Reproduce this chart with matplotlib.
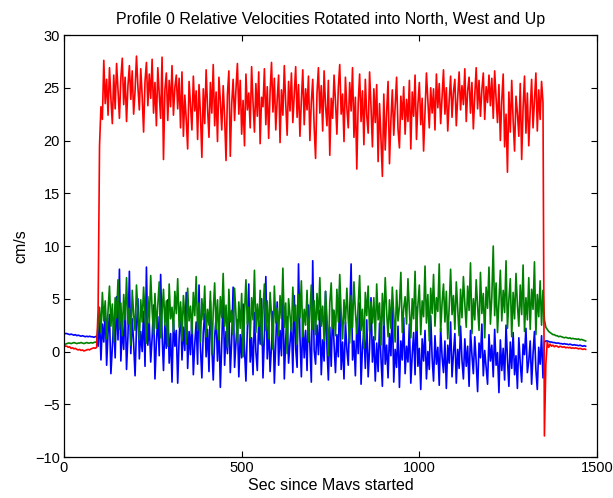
import numpy as np
import matplotlib
matplotlib.use("Agg")
import matplotlib.pyplot as plt

plt.rcParams['font.family'] = ['Liberation Sans', 'DejaVu Sans']

# sample times (s), one sample every 4 s
t_start, t_stop, t_step = 0, 1472, 4

red_vals = [
    0.6, 0.5, 0.5, 0.4, 0.45, 0.3, 0.35, 0.25, 0.3, 0.2, 0.15, 0.2, 0.1, 0.15, 0.05, 0.1, 0.15, 0.2, 0.15, 0.25,
    0.3, 0.35, 0.3, 0.4, 4.0, 19.5, 23.2, 22.0, 27.6, 23.5, 25.8, 22.4, 26.9, 24.0, 21.6, 26.2, 23.0, 27.3, 24.8, 22.1,
    25.9, 27.8, 23.4, 26.0, 21.8, 25.2, 27.1, 23.9, 26.6, 22.5, 24.7, 28.0, 25.1, 22.9, 26.8, 24.2, 20.8, 25.6, 27.4, 23.3,
    26.3, 24.0, 27.7, 22.6, 25.5, 21.4, 26.9, 24.4, 22.1, 27.9, 18.2, 24.8, 26.4, 21.9, 25.7, 23.2, 27.1, 22.4, 25.0, 26.2,
    23.0, 25.9, 21.2, 26.5, 20.4, 24.3, 22.0, 19.2, 25.6, 23.4, 21.0, 26.1, 22.8, 24.7, 20.1, 25.3, 22.5, 18.4, 24.9, 21.6,
    26.7, 23.1, 20.3, 25.5, 22.6, 27.2, 21.4, 24.6, 19.9, 26.0, 23.7, 21.0, 25.2, 22.2, 18.1, 24.4, 26.6, 18.5, 23.5, 25.8,
    21.9, 24.9, 27.3, 22.5, 25.7, 20.6, 23.8, 19.5, 26.3, 22.9, 24.5, 21.2, 27.0, 23.6, 20.8, 25.4, 22.3, 26.5, 19.7, 24.1,
    23.2, 26.8, 21.5, 25.1, 20.2, 24.6, 27.4, 22.7, 25.9, 21.0, 23.9, 26.2, 19.8, 24.8, 22.4, 27.1, 23.5, 20.5, 25.6, 22.8,
    26.4, 21.7, 24.3, 27.0, 22.2, 25.3, 20.4, 23.8, 26.7, 21.5, 24.9, 22.9, 26.1, 20.0, 23.6, 25.8, 21.3, 18.3, 24.5, 26.9,
    22.6, 25.2, 20.9, 26.6, 23.3, 21.4, 25.7, 18.6, 24.0, 22.1, 26.2, 23.7, 20.6, 25.0, 27.2, 22.5, 24.4, 19.9, 26.0, 23.1,
    21.2, 25.5, 22.8, 26.9, 20.3, 24.1, 17.3, 23.6, 26.3, 21.8, 24.7, 19.6, 25.8, 22.4, 20.7, 26.5, 23.2, 19.4, 24.9, 21.7,
    25.3, 18.0, 23.5, 20.2, 16.6, 24.4, 19.1, 22.7, 25.6, 17.8, 21.9, 24.8, 20.5, 23.3, 26.0, 21.1, 19.3, 24.2, 22.0, 25.1,
    20.6, 23.9, 21.8, 25.7, 19.2, 24.6, 22.3, 26.2, 20.1, 23.4, 25.5, 21.5, 24.0, 19.0, 22.8, 26.4, 23.7, 21.2, 25.0, 22.6,
    24.9, 21.0, 26.3, 23.1, 25.4, 21.6, 24.2, 26.7, 22.5, 25.0, 20.9, 23.8, 26.1, 22.2, 24.6, 25.8, 21.4, 24.1, 26.5, 22.9,
    25.2, 23.4, 26.8, 21.8, 24.7, 26.0, 22.6, 25.5, 21.1, 24.3, 26.9, 23.0, 25.7, 22.3, 24.8, 26.4, 22.0, 25.1, 23.6, 26.2,
    23.3, 25.9, 22.1, 26.6, 24.0, 21.7, 25.3, 20.0, 23.8, 26.3, 19.4, 22.5, 17.0, 24.6, 20.8, 25.7, 21.9, 19.0, 24.2, 22.6,
    20.4, 25.4, 18.2, 23.1, 26.1, 20.7, 24.5, 19.5, 22.8, 25.8, 21.2, 23.9, 26.4, 20.9, 24.8, 22.0, 25.6, 23.6, -8.0, -1.2,
    0.9, 0.4, 0.7, 0.5, 0.6, 0.45, 0.55, 0.5, 0.4, 0.5, 0.45, 0.4, 0.45, 0.35, 0.4, 0.35, 0.4, 0.3, 0.35, 0.3,
    0.35, 0.3, 0.25, 0.3, 0.25, 0.2, 0.25, 0.2,
]

green_vals = [
    0.6, 0.7, 0.75, 0.8, 0.8, 0.75, 0.8, 0.85, 0.8, 0.75, 0.8, 0.8, 0.85, 0.8, 0.75, 0.8, 0.85, 0.8, 0.8, 0.85,
    0.8, 0.85, 0.9, 0.85, 2.5, 4.2, 1.8, 5.6, 2.9, 4.8, 1.2, 3.9, 6.2, 2.4, 4.5, 0.9, 5.1, 3.2, 6.8, 2.1,
    4.6, 1.5, 5.4, 3.0, 7.0, 2.6, 4.1, 0.6, 5.8, 3.5, 2.0, 6.3, 3.8, 1.1, 4.9, 2.8, 6.1, 3.4, 0.8, 5.2,
    2.7, 7.2, 3.9, 1.6, 5.5, 2.2, 4.4, 6.6, 1.3, 3.7, 5.9, 2.5, 4.8, 0.5, 6.4, 3.1, 4.2, 1.9, 5.7, 3.6,
    6.9, 2.3, 4.7, 1.0, 5.3, 3.3, 0.7, 6.0, 2.9, 4.3, 1.7, 5.6, 3.4, 7.1, 2.0, 4.6, 0.9, 5.0, 3.0, 6.2,
    1.4, 4.0, 2.5, 5.7, -0.3, 3.8, 6.5, 2.1, 4.9, 1.1, 5.2, 3.2, 7.4, 2.4, 4.4, 0.4, 5.9, 2.8, 3.9, 1.6,
    6.0, 3.3, 0.8, 4.7, 2.2, 5.5, -0.5, 3.6, 6.8, 2.6, 4.2, 1.3, 5.1, 3.0, 7.7, 1.8, 4.5, 2.4, 5.8, 0.6,
    3.9, 6.4, 2.0, 4.8, 1.2, 5.6, 3.4, 0.2, 6.2, 2.7, 4.1, 1.5, 5.3, 3.1, 7.9, 2.3, 4.6, -0.2, 5.0, 3.5,
    1.9, 6.1, 2.9, 4.4, 0.7, 5.4, 3.2, 6.7, 1.4, 4.0, 2.5, 5.8, 0.9, 3.7, 6.3, 2.1, 4.8, 1.6, 5.5, 3.0,
    7.0, 2.4, 4.3, 1.0, 5.7, 3.3, -0.4, 4.6, 6.5, 2.2, 3.9, 1.5, 5.9, 2.8, 7.3, 3.6, 1.2, 4.9, 2.6, 6.0,
    3.1, 0.8, 5.3, 2.3, 6.6, 3.8, 1.7, 4.5, 7.2, 2.0, 4.0, 0.3, 5.6, 3.4, 6.2, 1.9, 4.7, 2.7, 5.1, 1.1,
    6.4, 3.0, 4.6, 0.6, 5.5, 2.5, 7.0, 3.7, 1.4, 4.9, 2.2, 6.1, 3.5, 0.9, 5.8, 2.9, 4.3, 7.5, 1.8, 4.1,
    5.2, 2.6, 6.9, 3.9, 1.3, 5.0, 3.1, 7.6, 2.0, 4.4, 6.3, 1.6, 4.8, 3.3, 8.1, 2.7, 5.4, 1.0, 6.0, 3.6,
    7.3, 2.4, 5.1, 3.8, 8.3, 1.9, 4.6, 6.4, 2.8, 5.7, 1.2, 4.2, 7.8, 3.5, 5.3, 2.1, 6.6, 4.0, 1.5, 5.9,
    3.2, 7.1, 4.5, 2.3, 6.2, 3.9, 8.4, 1.7, 5.0, 3.0, 6.8, 4.3, 2.0, 7.5, 3.6, 5.5, 1.3, 6.1, 4.1, 8.0,
    2.6, 5.2, 10.0, 3.4, 6.5, 1.8, 4.7, 7.7, 2.9, 5.8, 3.7, 8.6, 2.2, 4.9, 6.9, 1.4, 5.6, 3.1, 7.4, 4.4,
    2.4, 6.3, 3.5, 8.2, 1.9, 5.1, 3.0, 7.0, 2.1, 5.9, 4.0, 8.5, 1.6, 5.4, 3.3, 6.7, 2.5, 5.8, 3.0, 2.3,
    2.1, 1.9, 1.8, 1.7, 1.6, 1.6, 1.5, 1.5, 1.4, 1.45, 1.4, 1.35, 1.3, 1.35, 1.3, 1.25, 1.3, 1.2, 1.25, 1.2,
    1.2, 1.15, 1.2, 1.1, 1.15, 1.1, 1.05, 1.0,
]

blue_vals = [
    1.75, 1.7, 1.7, 1.65, 1.6, 1.65, 1.6, 1.55, 1.6, 1.5, 1.55, 1.5, 1.45, 1.5, 1.45, 1.4, 1.45, 1.4, 1.45, 1.4,
    1.4, 1.35, 1.4, 1.45, 0.5, 3.2, -0.8, 2.6, 0.9, 4.1, -1.3, 1.8, 3.5, -2.1, 0.4, 2.9, -0.6, 5.2, 1.1, 7.8,
    -0.9, 2.4, 0.2, 4.6, -1.7, 1.5, 7.6, -0.2, 3.1, 0.8, -2.3, 2.2, 5.0, -0.7, 1.9, 0.0, 3.8, -1.4, 8.0, 0.6,
    2.7, -1.0, 1.3, 4.4, -2.6, 0.9, 3.3, -0.4, 7.3, 1.6, -1.8, 2.5, 0.3, 4.9, -1.1, 1.7, -2.9, 3.0, 0.5, 2.0,
    -3.0, 1.2, 4.2, -0.8, 2.3, 0.1, 5.6, -1.6, 1.9, -0.3, 3.4, -2.2, 0.7, 2.8, -1.2, 6.3, 0.4, -2.5, 1.8, 3.6,
    -0.5, 2.1, -1.9, 4.8, 0.6, -2.7, 1.4, 3.2, -0.9, 2.6, -3.4, 0.8, 5.4, -1.3, 1.9, -0.2, 3.9, -2.0, 1.1, 6.1,
    -1.5, 0.9, 3.0, -2.4, 1.6, -0.6, 4.5, 0.2, -2.8, 2.2, 6.4, -1.0, 1.3, -2.2, 3.7, 0.0, -1.8, 2.9, 0.7, 5.0,
    -2.5, 1.5, 7.1, -0.7, 2.4, -1.9, 0.5, 3.8, -3.0, 1.0, 4.7, -1.3, 2.0, -0.4, 6.0, -2.6, 1.2, 3.3, -1.1, 0.8,
    2.7, -2.0, 5.3, 0.3, -1.5, 8.3, 1.4, -2.4, 3.1, -0.6, 2.0, -1.8, 4.4, 0.6, -2.9, 8.6, 0.1, -1.2, 2.5, -0.3,
    3.9, -2.2, 1.1, -0.9, 5.7, 0.4, -2.7, 2.3, -1.4, 4.0, 0.7, -2.0, 1.6, -0.5, 6.2, -1.7, 0.9, -2.6, 2.8, 0.2,
    -1.3, 3.5, 8.3, -0.8, 1.0, -2.3, 2.6, -0.2, 4.6, -3.1, 0.5, 1.9, -1.6, 3.0, -2.4, 0.3, 5.1, -1.0, 1.4, -2.8,
    0.8, -1.9, 2.7, -0.6, -3.3, 3.9, -1.2, 0.6, -2.5, 1.7, -0.4, 4.4, -2.9, 0.2, -1.5, 2.4, -3.4, 1.0, -0.8, 3.2,
    -2.1, 0.5, -1.0, 2.6, -3.0, -0.3, 1.8, -2.2, 4.2, -1.4, 0.3, -3.6, 1.2, -0.9, 2.0, -2.6, 0.0, -1.7, 3.4, -0.6,
    -2.8, 1.5, -1.2, 0.4, -3.2, 2.2, -0.5, -2.0, 1.0, -3.5, 0.6, -1.1, 2.8, -2.4, -0.2, 1.7, -3.0, 0.2, -1.6, 2.4,
    -0.8, -2.6, 1.2, -1.4, 0.5, -3.3, 2.0, -0.3, -2.1, 1.4, -1.0, -3.8, 0.8, -0.6, 2.6, -2.3, 0.1, -1.5, -3.1, 1.6,
    -0.9, 0.6, -2.4, 2.1, -1.3, -0.1, -3.9, 1.1, -1.8, 0.3, -2.7, 2.5, -0.7, -3.3, 0.9, -1.6, 1.8, -2.2, -0.4, -3.5,
    1.3, -1.1, -2.9, 0.7, -0.3, 2.2, -2.0, -0.9, 1.0, -3.1, -0.2, 1.9, -1.7, -3.6, 0.4, -1.2, 1.5, -2.5, 0.9, 1.0,
    1.0, 0.95, 0.9, 0.9, 0.85, 0.85, 0.8, 0.8, 0.8, 0.75, 0.75, 0.7, 0.75, 0.7, 0.7, 0.65, 0.7, 0.65, 0.6, 0.65,
    0.6, 0.6, 0.55, 0.6, 0.55, 0.5, 0.55, 0.5,
]

x_ticks = [0, 500, 1000, 1500]
y_ticks = [-10, -5, 0, 5, 10, 15, 20, 25, 30]

t = np.arange(t_start, t_stop, t_step)

fig = plt.figure(figsize=(6.13, 4.98), dpi=100)
ax = fig.add_axes([0.1044, 0.0823, 0.8695, 0.8474])

ax.plot(t, blue_vals, color='#0000ff', lw=1.2)
ax.plot(t, green_vals, color='#008000', lw=1.2)
ax.plot(t, red_vals, color='#ff0000', lw=1.2)

ax.set_xlim(0, 1500)
ax.set_ylim(-10, 30)
ax.set_xticks(x_ticks)
ax.set_yticks(y_ticks)
ax.tick_params(direction='in', top=True, right=True, length=4, width=0.8, labelsize=10.5, pad=3)
for s in ax.spines.values():
    s.set_linewidth(0.9)

ax.set_title('Profile 0 Relative Velocities Rotated into North, West and Up', fontsize=11.5, pad=8)
ax.set_xlabel('Sec since Mavs started', fontsize=11.5, labelpad=2)
ax.set_ylabel('cm/s', fontsize=11.5, labelpad=5)

fig.savefig('out.png', dpi=100)
